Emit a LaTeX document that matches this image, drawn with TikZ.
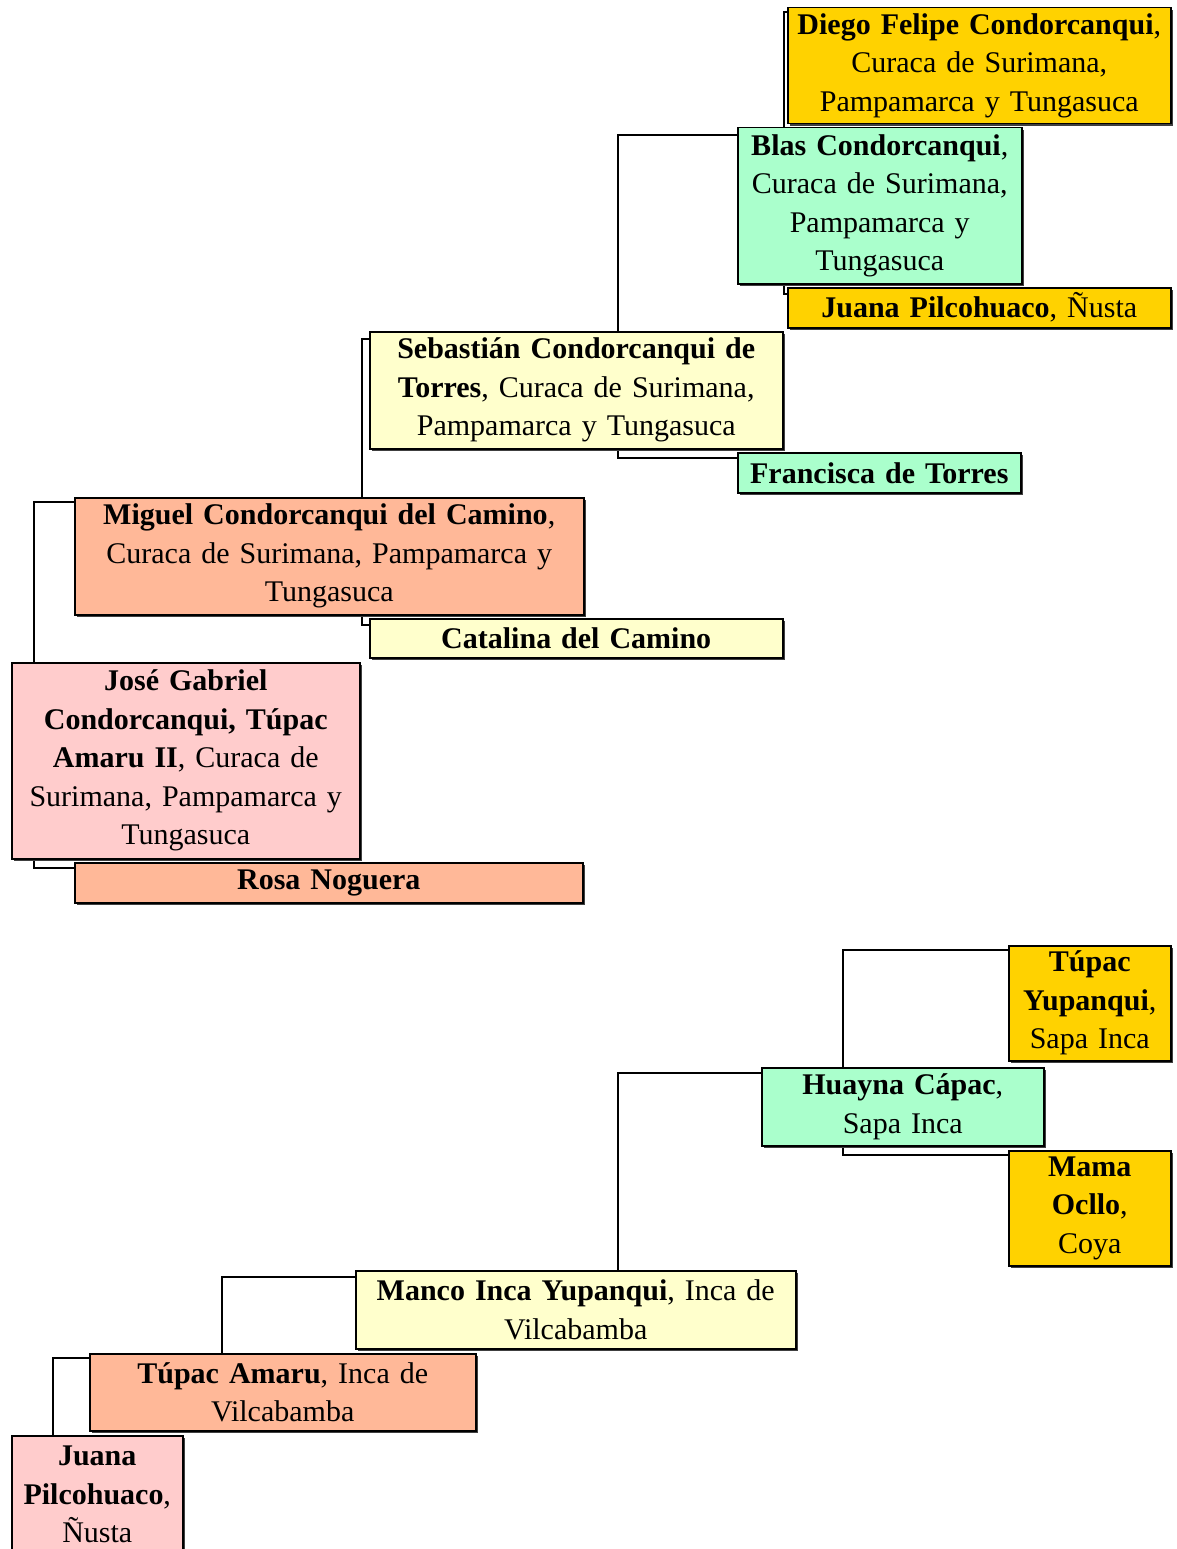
\documentclass[tikz,border=0pt]{standalone}
\usepackage{fontspec}
\setmainfont{Liberation Serif}
\usetikzlibrary{calc,shadows}
\definecolor{gold}{HTML}{FFD200}
\definecolor{mint}{HTML}{AAFFCC}
\definecolor{cream}{HTML}{FFFFCC}
\definecolor{salmon}{HTML}{FFB898}
\definecolor{pinkish}{HTML}{FFCCCC}
\pgfdeclarelayer{bg}\pgfdeclarelayer{paper}\pgfsetlayers{paper,bg,main}
\tikzset{
  pbox/.style={draw=black, line width=1.5pt, anchor=north west, inner sep=0pt,
    align=center, font=\fontsize{30}{38.5}\selectfont,
    drop shadow={shadow xshift=2.5pt, shadow yshift=-2.5pt, fill=black!75, opacity=1}},
  link/.style={draw=black, line width=1.5pt}
}
\begin{document}
\begin{tikzpicture}[x=1pt,y=-1pt]
\begin{pgfonlayer}{paper}
\fill[white] (0,0) rectangle (1176,1549);
\end{pgfonlayer}
\useasboundingbox (0,0) rectangle (1176,1549);
\clip (0,0) rectangle (1176,1549);
% top tree
\node[pbox, fill=gold, minimum width=383pt, minimum height=116pt, text width=379pt] (diego) at (787,7)
  {\textbf{Diego Felipe Condorcanqui},\\Curaca de Surimana,\\Pampamarca y Tungasuca};
\node[pbox, fill=mint, minimum width=284pt, minimum height=156pt, text width=280pt] (blas) at (737,127)
  {\textbf{Blas Condorcanqui},\\Curaca de Surimana,\\Pampamarca y\\Tungasuca};
\node[pbox, fill=gold, minimum width=383pt, minimum height=40pt, text width=379pt] (juana1) at (787,287)
  {\textbf{Juana Pilcohuaco}, Ñusta};
\node[pbox, fill=cream, minimum width=413pt, minimum height=117pt, text width=409pt] (seb) at (369,331)
  {\textbf{Sebastián Condorcanqui de}\\\textbf{Torres}, Curaca de Surimana,\\Pampamarca y Tungasuca};
\node[pbox, fill=mint, minimum width=283pt, minimum height=40pt, text width=279pt] (fran) at (737,452)
  {\textbf{Francisca de Torres}};
\node[pbox, fill=salmon, minimum width=509pt, minimum height=117pt, text width=505pt] (mig) at (74,497)
  {\textbf{Miguel Condorcanqui del Camino},\\Curaca de Surimana, Pampamarca y\\Tungasuca};
\node[pbox, fill=cream, minimum width=413pt, minimum height=39pt, text width=409pt] (cat) at (369,618)
  {\textbf{Catalina del Camino}};
\node[pbox, fill=pinkish, minimum width=348pt, minimum height=196pt, text width=344pt] (jose) at (11,662)
  {\textbf{José Gabriel}\\\textbf{Condorcanqui, Túpac}\\\textbf{Amaru II}, Curaca de\\Surimana, Pampamarca y\\Tungasuca};
\node[pbox, fill=salmon, minimum width=508pt, minimum height=40pt, text width=504pt] (rosa) at (74,862)
  {\textbf{Rosa Noguera}};
% bottom tree
\node[pbox, fill=gold, minimum width=162pt, minimum height=115pt, text width=158pt] (tupy) at (1008,945)
  {\textbf{Túpac}\\\textbf{Yupanqui},\\Sapa Inca};
\node[pbox, fill=mint, minimum width=282pt, minimum height=78pt, text width=278pt] (huay) at (761,1067)
  {\textbf{Huayna Cápac},\\Sapa Inca};
\node[pbox, fill=gold, minimum width=162pt, minimum height=115pt, text width=158pt] (mama) at (1008,1150)
  {\textbf{Mama}\\\textbf{Ocllo},\\Coya};
\node[pbox, fill=cream, minimum width=440pt, minimum height=78pt, text width=436pt] (manco) at (355,1270)
  {\textbf{Manco Inca Yupanqui}, Inca de\\Vilcabamba};
\node[pbox, fill=salmon, minimum width=386pt, minimum height=77pt, text width=382pt] (tupa) at (89,1353)
  {\textbf{Túpac Amaru}, Inca de\\Vilcabamba};
\node[pbox, fill=pinkish, minimum width=171pt, minimum height=118pt, text width=167pt] (juana2) at (11,1435)
  {\textbf{Juana}\\\textbf{Pilcohuaco},\\Ñusta};
% connectors
\begin{pgfonlayer}{bg}
\draw[link] ($(blas.north west)+(47,0)$) |- ($(diego.north west)+(0,5)$);
\draw[link] ($(blas.south west)+(47,0)$) |- ($(juana1.north west)+(0,7)$);
\draw[link] ($(seb.north west)+(249,0)$) |- ($(blas.north west)+(0,8)$);
\draw[link] ($(seb.south west)+(249,0)$) |- ($(fran.north west)+(0,6)$);
\draw[link] ($(mig.north west)+(288,0)$) |- ($(seb.north west)+(0,8)$);
\draw[link] ($(mig.south west)+(288,0)$) |- ($(cat.north west)+(0,7)$);
\draw[link] ($(jose.north west)+(23,0)$) |- ($(mig.north west)+(0,5)$);
\draw[link] ($(jose.south west)+(23,0)$) |- ($(rosa.north west)+(0,6)$);
\draw[link] ($(huay.north west)+(82,0)$) |- ($(tupy.north west)+(0,5)$);
\draw[link] ($(huay.south west)+(82,0)$) |- ($(mama.north west)+(0,5)$);
\draw[link] ($(manco.north west)+(263,0)$) |- ($(huay.north west)+(0,6)$);
\draw[link] ($(tupa.north west)+(133,0)$) |- ($(manco.north west)+(0,7)$);
\draw[link] ($(juana2.north west)+(42,0)$) |- ($(tupa.north west)+(0,5)$);
\end{pgfonlayer}
\end{tikzpicture}
\end{document}
